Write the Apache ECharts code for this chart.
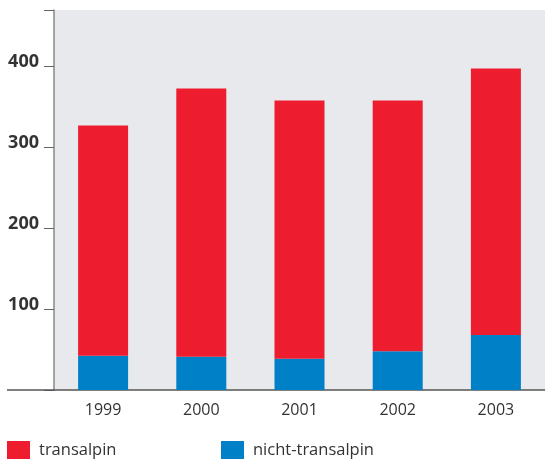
<!DOCTYPE html>
<html>
<head>
<meta charset="utf-8">
<script src="https://cdn.jsdelivr.net/npm/echarts@6/dist/echarts.min.js"></script>
<style>
html,body{margin:0;padding:0;background:#fff;}
#chart{width:545px;height:459px;}
</style>
</head>
<body>
<div id="chart"></div>
<script>
const categories = ['1999', '2000', '2001', '2002', '2003'];
const nichtTransalpin = [42.5, 41, 38.5, 48, 68];
const transalpin = [284.5, 332, 319.5, 310, 329.5];
const yTicks = [100, 200, 300, 400];

const FONT = '"Open Sans", sans-serif';
const chart = echarts.init(document.getElementById('chart'));
chart.setOption({
  animation: false,
  backgroundColor: '#ffffff',
  textStyle: { fontFamily: FONT },
  grid: {
    left: 54, right: 0, top: 10, bottom: 69,
    show: true, backgroundColor: '#e8e9ed', borderWidth: 0
  },
  legend: [
    {
      data: ['transalpin'], left: 7, top: 441, padding: 0, itemWidth: 23, itemHeight: 18, itemGap: 0,
      icon: 'rect', textStyle: { fontSize: 16.5, color: '#333', fontFamily: FONT, padding: [0, 0, 0, 4] }
    },
    {
      data: ['nicht-transalpin'], left: 221, top: 441, padding: 0, itemWidth: 23, itemHeight: 18, itemGap: 0,
      icon: 'rect', textStyle: { fontSize: 16.5, color: '#333', fontFamily: FONT, padding: [0, 0, 0, 4] }
    }
  ],
  xAxis: {
    type: 'category',
    data: categories,
    axisLine: { show: true, lineStyle: { color: '#555', width: 1.5 } },
    axisTick: { show: false },
    axisLabel: { fontSize: 16, color: '#333', margin: 12, fontFamily: FONT }
  },
  yAxis: {
    type: 'value',
    min: 0, max: 470, interval: 100,
    splitLine: { show: false },
    axisLine: { show: true, lineStyle: { color: '#888', width: 1.5 } },
    axisTick: { show: true, length: 10, lineStyle: { color: '#666', width: 1 } },
    axisLabel: {
      fontSize: 18, fontWeight: 'bold', color: '#333', margin: 15, fontFamily: FONT,
      verticalAlign: 'bottom', lineHeight: 9,
      formatter: function (v) { return yTicks.indexOf(v) >= 0 ? String(v) : ''; }
    }
  },
  graphic: [
    { type: 'line', shape: { x1: 7, y1: 390, x2: 54, y2: 390 }, style: { stroke: '#555', lineWidth: 1.5 }, z: 10 }
  ],
  series: [
    {
      name: 'nicht-transalpin', type: 'bar', stack: 'total', barWidth: 50,
      itemStyle: { color: '#0080c6' }, data: nichtTransalpin
    },
    {
      name: 'transalpin', type: 'bar', stack: 'total', barWidth: 50,
      itemStyle: { color: '#ed1c2f' }, data: transalpin
    }
  ]
});
</script>
</body>
</html>
